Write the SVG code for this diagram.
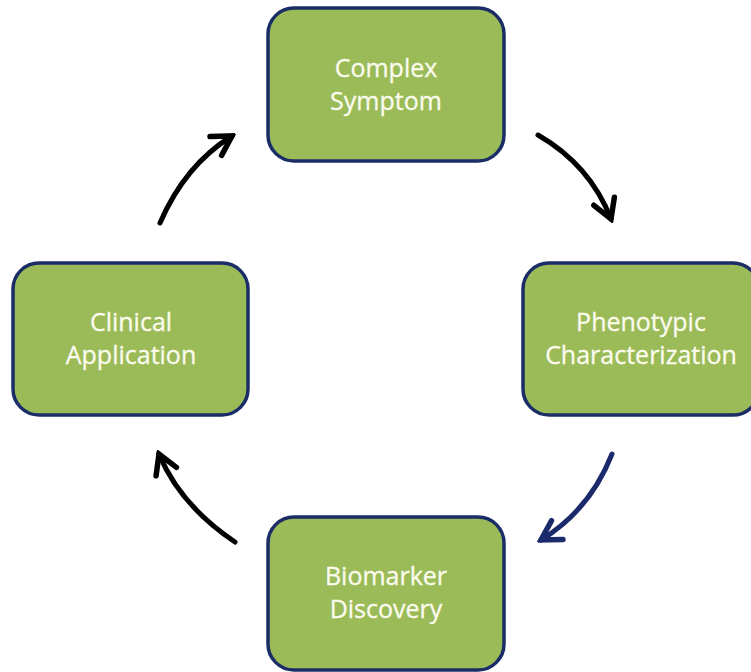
<svg xmlns="http://www.w3.org/2000/svg" width="751" height="672" viewBox="0 0 751 672">
<style>
.box{fill:#9bbb59;stroke:#1a2d66;stroke-width:3.5}
.lbl{font-family:"Open Sans","Liberation Sans",sans-serif;font-size:25px;fill:#fbfbee;text-anchor:middle;stroke:#fbfbee;stroke-width:0.3}
.arr{fill:none;stroke-width:5;stroke-linecap:round}
</style>
<defs>
<marker id="hb" markerUnits="userSpaceOnUse" viewBox="-24 -15 28 30" refX="0" refY="0" markerWidth="28" markerHeight="30" orient="auto">
<path d="M-19,-11 L0,0 L-19,11" fill="none" stroke="#000" stroke-width="5.5" stroke-linejoin="miter" stroke-linecap="round"/>
</marker>
<marker id="hn" markerUnits="userSpaceOnUse" viewBox="-24 -15 28 30" refX="0" refY="0" markerWidth="28" markerHeight="30" orient="auto">
<path d="M-19,-11 L0,0 L-19,11" fill="none" stroke="#1b2a6b" stroke-width="5.5" stroke-linejoin="miter" stroke-linecap="round"/>
</marker>
</defs>
<g id="connectors">
<path class="arr" stroke="#000" d="M538,135 Q590,165 611,219" marker-end="url(#hb)"/>
<path class="arr" stroke="#1b2a6b" d="M612,454 Q590,510 541,540" marker-end="url(#hn)"/>
<path class="arr" stroke="#000" d="M235,542 Q180,505 159,454" marker-end="url(#hb)"/>
<path class="arr" stroke="#000" d="M160,223 Q185,165 232,136" marker-end="url(#hb)"/>
</g>
<g id="complex-symptom">
<rect class="box" x="268" y="8" width="236" height="153" rx="26"/>
<text class="lbl" x="386" y="77">Complex</text>
<text class="lbl" x="386" y="110">Symptom</text>
</g>
<g id="phenotypic-characterization">
<rect class="box" x="523" y="263" width="236" height="152" rx="26"/>
<text class="lbl" x="641" y="331">Phenotypic</text>
<text class="lbl" x="641" y="364">Characterization</text>
</g>
<g id="biomarker-discovery">
<rect class="box" x="268" y="517" width="236" height="153" rx="26"/>
<text class="lbl" x="386" y="585">Biomarker</text>
<text class="lbl" x="386" y="618">Discovery</text>
</g>
<g id="clinical-application">
<rect class="box" x="13" y="263" width="235" height="152" rx="26"/>
<text class="lbl" x="131" y="331">Clinical</text>
<text class="lbl" x="131" y="364">Application</text>
</g>
</svg>
